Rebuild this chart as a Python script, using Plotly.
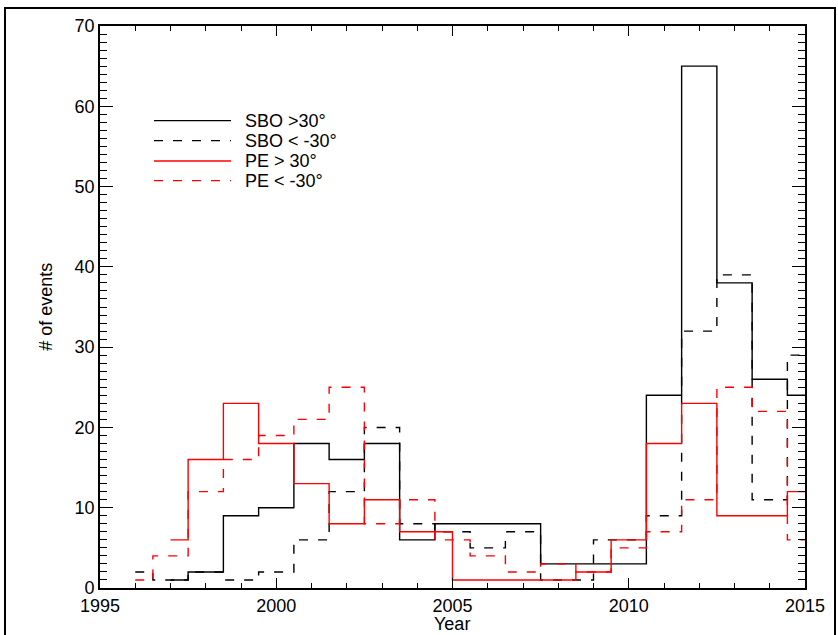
import plotly.graph_objects as go

# ---------------- data ----------------
sbo_pos_years = [1997, 1998, 1999, 2000, 2001, 2002, 2003, 2004, 2005, 2006, 2007,
                 2008, 2009, 2010, 2011, 2012, 2013, 2014, 2015]
sbo_pos_counts = [1, 2, 9, 10, 18, 16, 18, 6, 8, 8, 8,
                  3, 3, 3, 24, 65, 38, 26, 24]

sbo_neg_years = [1996, 1997, 1998, 1999, 2000, 2001, 2002, 2003, 2004, 2005, 2006,
                 2007, 2008, 2010, 2011, 2012, 2013, 2014, 2015]
sbo_neg_counts = [2, 1, 2, 1, 2, 6, 12, 20, 8, 7, 5,
                  7, 1, 6, 9, 32, 39, 11, 29]

pe_pos_years = [1997, 1998, 1999, 2000, 2001, 2002, 2003, 2004, 2006, 2007,
                2008, 2009, 2010, 2011, 2012, 2013, 2014, 2015]
pe_pos_counts = [6, 16, 23, 18, 13, 8, 11, 7, 1, 1,
                 1, 2, 6, 18, 23, 9, 9, 12]

pe_neg_years = [1996, 1997, 1998, 1999, 2000, 2001, 2002, 2003, 2004, 2005, 2006,
                2007, 2008, 2009, 2010, 2011, 2012, 2013, 2014, 2015]
pe_neg_counts = [1, 4, 12, 16, 19, 21, 25, 8, 11, 6, 4,
                 2, 3, 2, 5, 7, 11, 25, 22, 6]

legend_labels = ["SBO &gt;30°", "SBO &lt; -30°", "PE &gt; 30°", "PE &lt; -30°"]
x_ticks = [1995, 2000, 2005, 2010, 2015]
y_ticks = [0, 10, 20, 30, 40, 50, 60, 70]
x_title = "Year"
y_title = "# of events"

# ---------------- layout geometry ----------------
W, H = 838, 635
L, R, T, B = 100, 805, 26, 588.3
FONT = "Liberation Sans, Arial, Helvetica, sans-serif"
DASH = "9px,10px"


def px(xp):
    return (xp - L) / (R - L)


def py(yp):
    return (B - yp) / (B - T)


series = [
    (sbo_pos_years, sbo_pos_counts, "black", "solid"),
    (sbo_neg_years, sbo_neg_counts, "black", DASH),
    (pe_pos_years, pe_pos_counts, "#ff0000", "solid"),
    (pe_neg_years, pe_neg_counts, "#ff0000", DASH),
]

fig = go.Figure()
for (xs, ys, col, dash), name in zip(series, legend_labels):
    fig.add_trace(go.Scatter(
        x=xs, y=ys, mode="lines", name=name,
        line=dict(color=col, width=1.4, dash=dash, shape="hvh"),
        showlegend=False, hoverinfo="x+y",
    ))

shapes = []
annotations = []
# manual legend
leg_rows = [120.7, 140.7, 161.0, 180.7]
for (xs, ys, col, dash), name, ry in zip(series, legend_labels, leg_rows):
    shapes.append(dict(type="line", xref="paper", yref="paper",
                       x0=px(154), x1=px(231), y0=py(ry), y1=py(ry),
                       line=dict(color=col, width=1.4, dash=dash)))
    annotations.append(dict(xref="paper", yref="paper", x=px(243), y=py(ry),
                            text=name, showarrow=False, xanchor="left",
                            yanchor="middle",
                            font=dict(family=FONT, size=18, color="black")))

# axis titles
annotations.append(dict(xref="paper", yref="paper", x=px(452), y=py(635),
                        text=x_title, showarrow=False, xanchor="center",
                        yanchor="bottom", borderpad=0,
                        font=dict(family=FONT, size=18, color="black")))
annotations.append(dict(xref="paper", yref="paper", x=px(46), y=py(307),
                        text=y_title, showarrow=False, textangle=-90,
                        xanchor="center", yanchor="middle",
                        font=dict(family=FONT, size=18, color="black")))

# outer frame around the figure
shapes.append(dict(type="rect", xref="paper", yref="paper",
                   x0=px(5), x1=px(835), y0=py(645), y1=py(8),
                   line=dict(color="black", width=2), fillcolor="rgba(0,0,0,0)",
                   layer="below"))

axis_common = dict(
    showline=True, linecolor="black", linewidth=1.6, mirror="ticks",
    ticks="inside", tickcolor="black", tickwidth=1.2,
    showgrid=False, zeroline=False, automargin=False,
    tickfont=dict(family=FONT, size=18, color="black"),
)

fig.update_layout(
    width=W, height=H,
    margin=dict(l=L, r=W - R, t=T, b=H - B, pad=0),
    paper_bgcolor="white", plot_bgcolor="white",
    shapes=shapes, annotations=annotations,
    showlegend=False,
    xaxis=dict(range=[1995, 2015], tickvals=x_ticks,
               ticktext=[str(v) for v in x_ticks], ticklen=10,
               ticklabelstandoff=1,
               minor=dict(dtick=1, ticks="inside", ticklen=5, tickcolor="black",
                          tickwidth=1.2, showgrid=False),
               **axis_common),
    yaxis=dict(range=[0, 70], tickvals=y_ticks,
               ticktext=[str(v) for v in y_ticks], ticklen=13,
               minor=dict(dtick=1, ticks="inside", ticklen=7, tickcolor="black",
                          tickwidth=1.2, showgrid=False),
               **axis_common),
)

fig.write_html("out.html")
